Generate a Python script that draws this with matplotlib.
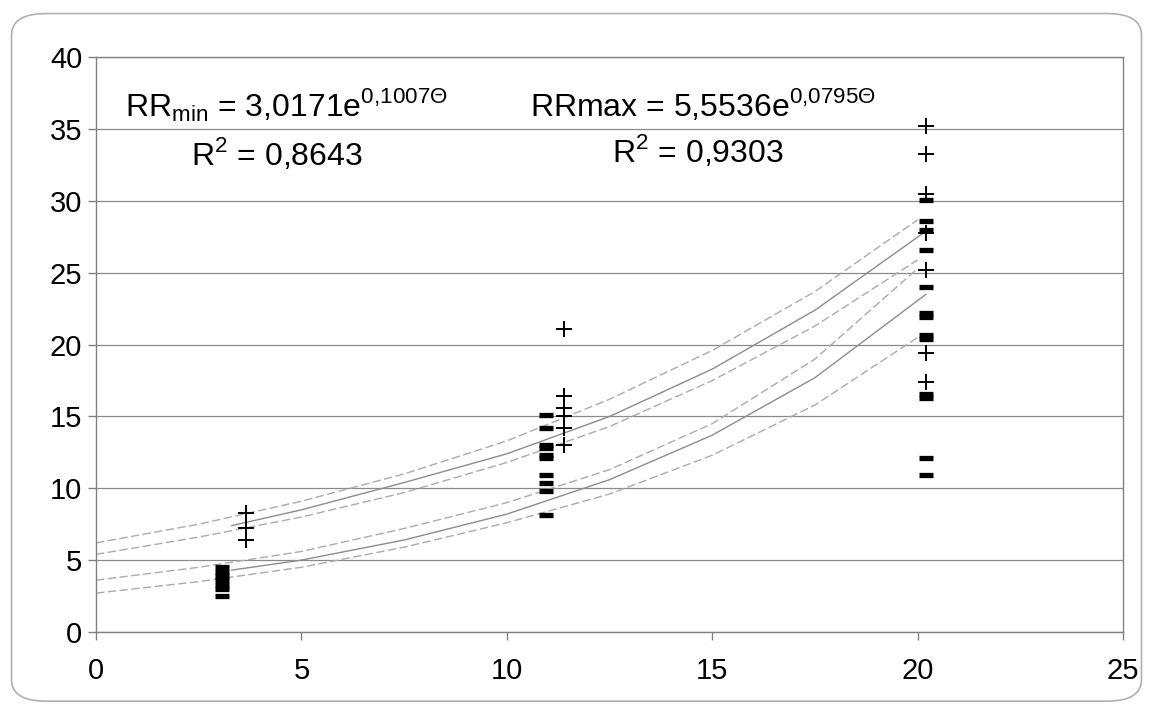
import matplotlib.pyplot as plt
from matplotlib.patches import FancyBboxPatch

plt.rcParams['font.family'] = ['Liberation Sans', 'DejaVu Sans']
plt.rcParams['mathtext.fontset'] = 'custom'
plt.rcParams['mathtext.rm'] = 'Liberation Sans'

# measured points: RR min (bars) and RR max (crosses)
x_min = [3.06] * 7 + [10.96] * 10 + [20.2] * 13
rr_min = [4.5, 4.2, 3.9, 3.6, 3.3, 3.0, 2.5,
          15.1, 14.2, 13.0, 12.8, 12.3, 12.1, 10.9, 10.4, 9.8, 8.15,
          30.1, 28.6, 28.0, 26.6, 24.0, 22.2, 21.9, 20.7, 20.4, 16.6, 16.3, 12.1, 10.9]
x_max = [3.66] * 3 + [11.4] * 6 + [20.2] * 7
rr_max = [8.3, 7.2, 6.4,
          21.1, 16.4, 15.6, 15.0, 14.2, 13.0,
          35.2, 33.3, 30.5, 27.8, 25.2, 19.4, 17.4]

# trend lines
x_fit = [3.3, 5, 7.5, 10, 12.5, 15, 17.5, 20.2]
max_fit = [7.4, 8.5, 10.4, 12.4, 15.0, 18.3, 22.4, 27.9]
min_fit = [4.3, 5.0, 6.4, 8.2, 10.6, 13.7, 17.7, 23.5]

# confidence bands (dashed)
x_band = [0, 2.5, 5, 7.5, 10, 12.5, 15, 17.5, 20]
max_upper = [6.2, 7.5, 9.1, 11.0, 13.3, 16.2, 19.6, 23.7, 28.7]
max_lower = [5.4, 6.6, 8.0, 9.7, 11.8, 14.3, 17.5, 21.3, 25.9]
min_upper = [3.6, 4.5, 5.6, 7.2, 9.0, 11.3, 14.5, 19.0, 25.3]
min_lower = [2.7, 3.5, 4.5, 5.9, 7.6, 9.6, 12.3, 15.8, 20.5]

fig = plt.figure(figsize=(11.53, 7.14), dpi=100)
ax = fig.add_axes([0.0833, 0.115, 0.8907, 0.8045])

# rounded frame around the whole chart
frame = FancyBboxPatch((0.010, 0.018), 0.980, 0.963,
                       boxstyle="round,pad=0,rounding_size=0.03",
                       transform=fig.transFigure, fill=False,
                       edgecolor='#b0b0b0', linewidth=1.2)
fig.patches.append(frame)

grey_dash = '#ababab'
grey_solid = '#8c8c8c'
for yy in (max_upper, max_lower, min_upper, min_lower):
    ax.plot(x_band, yy, color=grey_dash, lw=1.0, dashes=(6, 2.5), zorder=2)
ax.plot(x_fit, max_fit, color=grey_solid, lw=1.0, zorder=2)
ax.plot(x_fit, min_fit, color=grey_solid, lw=1.0, zorder=2)

ax.plot(x_min, rr_min, ls='none', marker='_', ms=10, mew=3.8, color='black', zorder=3)
ax.plot(x_max, rr_max, ls='none', marker='+', ms=11.5, mew=1.4, color='black', zorder=3)

ax.set_xlim(0, 25)
ax.set_ylim(0, 40)
ax.set_xticks(range(0, 26, 5))
ax.set_yticks(range(0, 41, 5))
ax.grid(axis='y', color='#8a8a8a', lw=0.9)
ax.set_axisbelow(True)
for s in ax.spines.values():
    s.set_color('#808080')
    s.set_linewidth(1.0)
ax.tick_params(labelsize=21, colors='#808080', labelcolor='black', length=6, width=1.0)
ax.tick_params(axis='x', pad=12)
ax.tick_params(axis='y', pad=4)

fs = 23
ax.text(0.7, 36.7, r'RR$_{\mathregular{min}}$ = 3,0171e$^{\mathregular{0{,}1007Θ}}$',
        fontsize=fs, va='center', ha='left')
ax.text(2.3, 33.3, r'R$^{\mathregular{2}}$ = 0,8643', fontsize=fs, va='center', ha='left')
ax.text(10.56, 36.7, r'RRmax = 5,5536e$^{\mathregular{0{,}0795Θ}}$',
        fontsize=fs, va='center', ha='left')
ax.text(12.56, 33.5, r'R$^{\mathregular{2}}$ = 0,9303', fontsize=fs, va='center', ha='left')

fig.savefig('out.png', dpi=100, facecolor='white')
